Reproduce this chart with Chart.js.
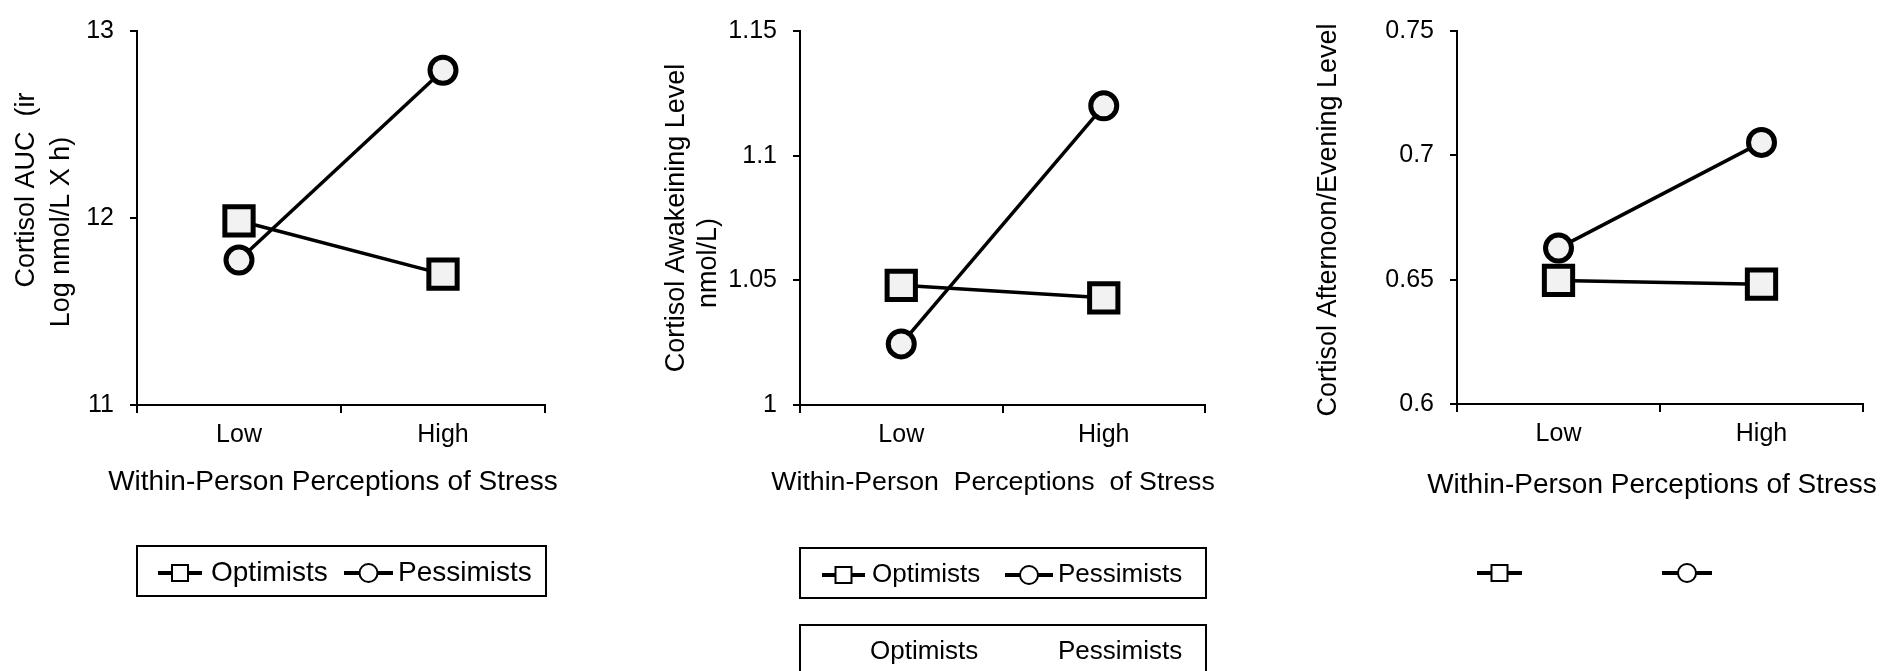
<!DOCTYPE html>
<html>
<head>
<meta charset="utf-8">
<title>Cortisol by perceived stress</title>
<script src="https://cdn.jsdelivr.net/npm/chart.js@4.4.0/dist/chart.umd.min.js"></script>
<style>
  html, body { margin: 0; padding: 0; background: #fff; }
  body { width: 1898px; height: 671px; position: relative; overflow: hidden; }
  canvas { position: absolute; top: 0; }
</style>
</head>
<body>
<canvas id="aucChart" width="632" height="671" style="left:0"></canvas>
<canvas id="wakeChart" width="633" height="671" style="left:632px"></canvas>
<canvas id="eveChart" width="633" height="671" style="left:1265px"></canvas>
<script>
// data
const stressLevels = ['Low', 'High'];
const groups = ['Optimists', 'Pessimists'];

const aucOptimists = [11.985, 11.70];
const aucPessimists = [11.775, 12.79];
const aucTicks = [11, 12, 13];
const aucTickLabels = ['11', '12', '13'];

const wakeOptimists = [1.048, 1.043];
const wakePessimists = [1.0245, 1.12];
const wakeTicks = [1, 1.05, 1.1, 1.15];
const wakeTickLabels = ['1', '1.05', '1.1', '1.15'];

const eveOptimists = [0.6497, 0.6482];
const evePessimists = [0.6627, 0.7052];
const eveTicks = [0.6, 0.65, 0.7, 0.75];
const eveTickLabels = ['0.6', '0.65', '0.7', '0.75'];

const FONT = "'Liberation Sans', Arial, sans-serif";
Chart.defaults.font.family = FONT;
Chart.defaults.color = '#000';

// little key: line with the marker in the middle
function drawKey(ctx, style, x1, x2, y) {
  ctx.save();
  ctx.strokeStyle = '#000';
  ctx.lineWidth = 4;
  ctx.beginPath(); ctx.moveTo(x1, y); ctx.lineTo(x2, y); ctx.stroke();
  const cx = (x1 + x2) / 2;
  ctx.lineWidth = 2;
  ctx.fillStyle = '#fff';
  ctx.beginPath();
  if (style === 'rect') ctx.rect(cx - 8, y - 8, 16, 16);
  else ctx.arc(cx, y, 9, 0, Math.PI * 2);
  ctx.fill(); ctx.stroke();
  ctx.restore();
}

// axis titles + boxed legends drawn on top of each chart
function overlay(cfg) {
  return {
    id: 'overlay',
    afterDraw(chart) {
      const ctx = chart.ctx;
      ctx.save();
      ctx.fillStyle = '#000';
      ctx.textBaseline = 'middle';
      ctx.textAlign = 'center';
      ctx.font = '27px ' + FONT;
      cfg.yTitle.forEach(l => {
        ctx.save();
        ctx.translate(l.x, l.y);
        ctx.rotate(-Math.PI / 2);
        ctx.fillText(l.text, 0, 0);
        ctx.restore();
      });
      ctx.font = (cfg.xTitle.size || 28) + 'px ' + FONT;
      ctx.fillText(cfg.xTitle.text, cfg.xTitle.x, cfg.xTitle.y);

      ctx.strokeStyle = '#000';
      ctx.lineWidth = 2;
      (cfg.boxes || []).forEach(b => ctx.strokeRect(b.x, b.y, b.w, b.h));
      ctx.font = (cfg.keySize || 26) + 'px ' + FONT;
      ctx.textAlign = 'left';
      (cfg.keys || []).forEach(k => {
        const ds = chart.data.datasets[k.ds];
        if (k.x1 != null) drawKey(ctx, ds.pointStyle, k.x1, k.x2, k.y);
        if (k.tx != null) { ctx.fillStyle = '#000'; ctx.fillText(ds.label, k.tx, k.y); }
      });
      ctx.restore();
    }
  };
}

function makeChart(id, opt, pess, ticks, tickLabels, area, xH, extras) {
  const canvas = document.getElementById(id);
  const W = canvas.width, H = canvas.height;
  return new Chart(canvas, {
    type: 'line',
    data: {
      labels: stressLevels,
      datasets: [
        {label: groups[0], data: opt, pointStyle: 'rect', pointRadius: 20},
        {label: groups[1], data: pess, pointStyle: 'circle', pointRadius: 13}
      ].map(d => Object.assign(d, {
        borderColor: '#000', borderWidth: 3.5, tension: 0,
        pointBackgroundColor: '#f2f2f2', pointBorderColor: '#000', pointBorderWidth: 5,
        clip: false
      }))
    },
    options: {
      responsive: false,
      animation: false,
      events: [],
      layout: {padding: {left: 0, right: W - area.right, top: area.top, bottom: H - area.bottom - xH}},
      plugins: {legend: {display: false}, tooltip: {enabled: false}},
      scales: {
        x: {
          offset: true,
          grid: {offset: true, drawOnChartArea: false, drawTicks: true, tickLength: 8, color: '#000', lineWidth: 2},
          border: {display: true, color: '#000', width: 2},
          ticks: {font: {size: 25}, color: '#000', padding: 7},
          afterFit: s => { s.height = xH; }
        },
        y: {
          min: ticks[0],
          max: ticks[ticks.length - 1],
          grid: {drawOnChartArea: false, drawTicks: true, tickLength: 7, color: '#000', lineWidth: 2},
          border: {display: true, color: '#000', width: 2},
          ticks: {font: {size: 25}, color: '#000', padding: 16,
            callback: v => tickLabels[ticks.findIndex(t => Math.abs(t - v) < 1e-9)]},
          afterBuildTicks: s => { s.ticks = ticks.map(v => ({value: v})); },
          afterFit: s => { s.width = area.left; }
        }
      }
    },
    plugins: [overlay(extras)]
  });
}

makeChart('aucChart', aucOptimists, aucPessimists, aucTicks, aucTickLabels,
  {left: 137, right: 545, top: 18, bottom: 405}, 93,
  {
    yTitle: [
      {text: 'Cortisol AUC  (ir', x: 27, y: 190},
      {text: 'Log nmol/L X h)', x: 62, y: 232}
    ],
    xTitle: {text: 'Within-Person Perceptions of Stress', x: 333, y: 482},
    keySize: 28,
    boxes: [{x: 137, y: 546, w: 409, h: 50}],
    keys: [
      {ds: 0, x1: 158, x2: 202, tx: 211, y: 573},
      {ds: 1, x1: 344, x2: 393, tx: 398, y: 573}
    ]
  });

makeChart('wakeChart', wakeOptimists, wakePessimists, wakeTicks, wakeTickLabels,
  {left: 168, right: 573, top: 21, bottom: 405}, 93,
  {
    yTitle: [
      {text: 'Cortisol Awakeining Level', x: 45, y: 218},
      {text: 'nmol/L)', x: 77, y: 263}
    ],
    xTitle: {text: 'Within-Person  Perceptions  of Stress', x: 361, y: 483, size: 26.7},
    boxes: [{x: 168, y: 548, w: 406, h: 50}, {x: 168, y: 625, w: 406, h: 80}],
    keys: [
      {ds: 0, x1: 190, x2: 233, tx: 240, y: 575},
      {ds: 1, x1: 373, x2: 421, tx: 426, y: 575},
      {ds: 0, tx: 238, y: 652},
      {ds: 1, tx: 426, y: 652}
    ]
  });

makeChart('eveChart', eveOptimists, evePessimists, eveTicks, eveTickLabels,
  {left: 192, right: 598, top: 17, bottom: 404}, 97,
  {
    yTitle: [
      {text: 'Cortisol Afternoon/Evening Level', x: 64, y: 220}
    ],
    xTitle: {text: 'Within-Person Perceptions of Stress', x: 387, y: 485},
    keys: [
      {ds: 0, x1: 212, x2: 257, y: 573},
      {ds: 1, x1: 397, x2: 447, y: 573}
    ]
  });
</script>
</body>
</html>
